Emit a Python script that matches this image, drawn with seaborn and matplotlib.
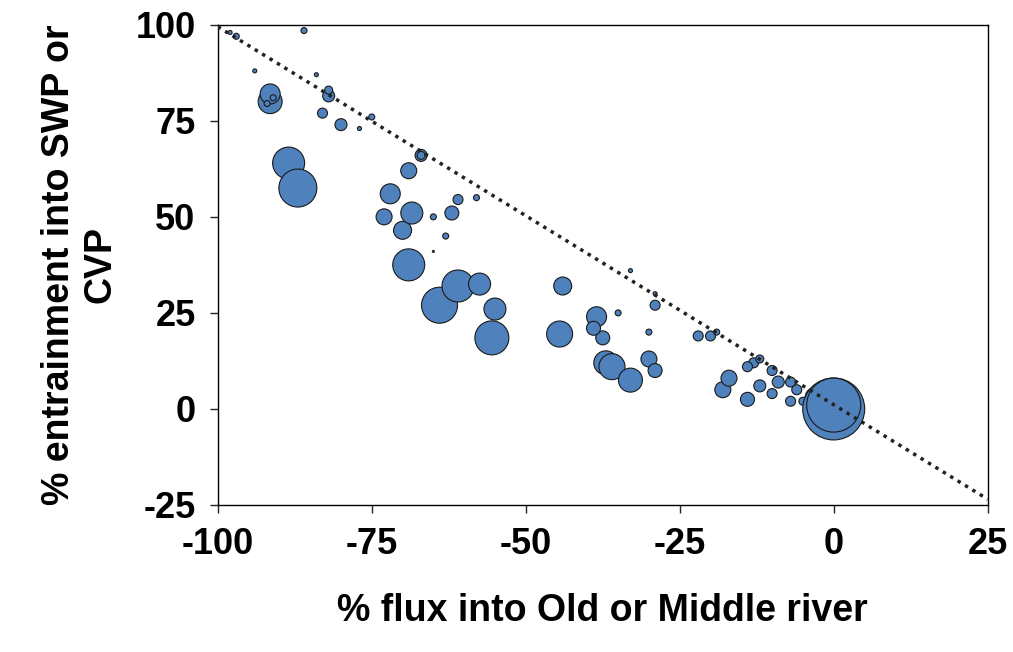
import pandas as pd
import seaborn as sns
import matplotlib.pyplot as plt

# flux (%), entrainment (%), bubble radius (px)
flux = [-88.5, -87, -91.5, -91.5, -92, -91, -82, -82, -83, -80, -98, -97, -77, -75, -84, -94, -86,
        -67, -67, -69, -72, -73, -70, -68.5, -65, -62, -61, -58, -63, -65,
        -69, -64, -61, -57.5, -55, -55.5,
        -44, -44.5, -38.5, -37.5, -39, -37, -36, -33, -30, -29, -35, -29, -30, -33, -29,
        -22, -20, -19, -18, -17, -14, -13, -14, -12, -12, -10, -10, -9, -7, -6, -5, -7, -2, -3, -1, 0, 0]
entrain = [64, 57.5, 80, 82, 79.5, 81, 81.5, 83, 77, 74, 98, 97, 73, 76, 87, 88, 98.5,
           66, 66, 62, 56, 50, 46.5, 51, 50, 51, 54.5, 55, 45, 41,
           37.5, 27, 32, 32.5, 26, 18.5,
           32, 19.5, 24, 18.5, 21, 12, 11, 7.5, 13, 10, 25, 27, 20, 36, 30,
           19, 19, 20, 5, 8, 2.5, 12, 11, 6, 13, 10, 4, 7, 7, 5, 2, 2, 1, 3, 2, 0, 1]
radius = [16, 19, 12, 10, 3, 3, 6, 4, 5, 6, 2, 3, 2, 3, 2, 2, 3,
          6, 4, 8, 10, 8, 9, 11, 3, 7, 5, 3, 3, 1,
          16, 18, 16, 11, 11, 17,
          9, 13, 10, 7, 7, 12, 13, 12, 8, 7, 3, 5, 3, 2, 2,
          5, 5, 3, 8, 8, 7, 5, 5, 6, 4, 5, 5, 6, 5, 5, 4, 5, 3, 10, 20, 31, 27]

df = pd.DataFrame({"flux": flux, "entrain": entrain, "r": radius})
sizes = {r: (1.44 * r) ** 2 for r in df.r.unique()}

sns.set_style("white")
plt.rcParams['font.family'] = ['Liberation Sans', 'DejaVu Sans']
plt.rcParams['axes.unicode_minus'] = False
plt.rcParams['text.color'] = 'black'
fig = plt.figure(figsize=(10.13, 6.52), dpi=100)
ax = fig.add_axes([0.215, 0.2255, 0.76, 0.7365])

ax.plot([-100, 25], [99.5, -23.5], color="#222222", linestyle=(0, (1, 1.5)), linewidth=2.5, zorder=3)
sns.scatterplot(data=df, x="flux", y="entrain", size="r", sizes=sizes, color="#4f81bd",
                edgecolor="#1a1a1a", linewidth=0.8, legend=False, ax=ax, zorder=2)

ax.set_xlim(-100, 25)
ax.set_ylim(-25, 100)
ax.set_xticks([-100, -75, -50, -25, 0, 25])
ax.set_yticks([-25, 0, 25, 50, 75, 100])
for s in ax.spines.values():
    s.set_color("black")
    s.set_linewidth(1)
ax.tick_params(direction="out", length=6, width=1, left=True, bottom=True, labelsize=26,
               labelcolor="black", pad=10)
for lab in ax.get_xticklabels() + ax.get_yticklabels():
    lab.set_fontweight("bold")
ax.set_xlabel("% flux into Old or Middle river", fontsize=27, fontweight="bold", labelpad=22, color="black")
ax.set_ylabel("% entrainment into SWP or\nCVP", fontsize=27, fontweight="bold", labelpad=12, color="black")

fig.savefig("out.png", dpi=100)
